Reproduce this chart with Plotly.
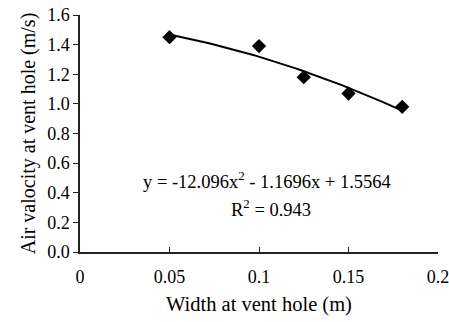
import numpy as np
import plotly.graph_objects as go

# Data
width_m = [0.05, 0.10, 0.125, 0.15, 0.18]
air_velocity = [1.45, 1.39, 1.18, 1.07, 0.98]
# Trendline coefficients (from the chart's equation)
coef_a, coef_b, coef_c = -12.096, -1.1696, 1.5564
x_ticks = [0, 0.05, 0.1, 0.15, 0.2]
y_ticks = [0.0, 0.2, 0.4, 0.6, 0.8, 1.0, 1.2, 1.4, 1.6]

xf = np.linspace(min(width_m), max(width_m), 60)
yf = coef_a * xf**2 + coef_b * xf + coef_c

FONT = "Liberation Serif"
fig = go.Figure()
fig.add_trace(go.Scatter(x=xf, y=yf, mode="lines",
                         line=dict(color="black", width=2), showlegend=False))
fig.add_trace(go.Scatter(x=width_m, y=air_velocity, mode="markers",
                         marker=dict(symbol="diamond", size=11, color="black"),
                         showlegend=False))

fig.add_annotation(x=0.1045, y=0.486, xref="x", yref="y", showarrow=False,
                   text="y = -12.096x<sup>2</sup> - 1.1696x + 1.5564",
                   font=dict(family=FONT, size=18.5, color="black"))
fig.add_annotation(x=0.1065, y=0.297, xref="x", yref="y", showarrow=False,
                   text="R<sup>2</sup> = 0.943",
                   font=dict(family=FONT, size=18.5, color="black"))

fig.update_layout(
    width=449, height=322,
    margin=dict(l=80, r=11, t=15, b=70, autoexpand=False),
    paper_bgcolor="white", plot_bgcolor="white",
    font=dict(family=FONT, size=17, color="black"),
    xaxis=dict(range=[0, 0.2], tickvals=x_ticks,
               ticktext=["0", "0.05", "0.1", "0.15", "0.2"],
               showgrid=False, zeroline=False, showline=True,
               linecolor="#222", linewidth=1.5, ticks="inside",
               ticklen=5, tickcolor="#222", ticklabeloverflow="allow",
               ticklabelstandoff=8, automargin=False,
               tickfont=dict(family=FONT, size=18, color="black"),
               title=dict(text="Width at vent hole (m)", standoff=10,
                          font=dict(family=FONT, size=20.5, color="black"))),
    yaxis=dict(range=[0, 1.6], tickvals=y_ticks, tickformat=".1f",
               showgrid=False, zeroline=False, showline=True,
               linecolor="#222", linewidth=1.5, ticks="outside",
               ticklen=5, tickcolor="#222", automargin=False,
               tickfont=dict(family=FONT, size=18, color="black"),
               title=dict(text="Air valocity at vent hole (m/s)", standoff=6,
                          font=dict(family=FONT, size=20, color="black"))),
)
fig.write_html("out.html")
